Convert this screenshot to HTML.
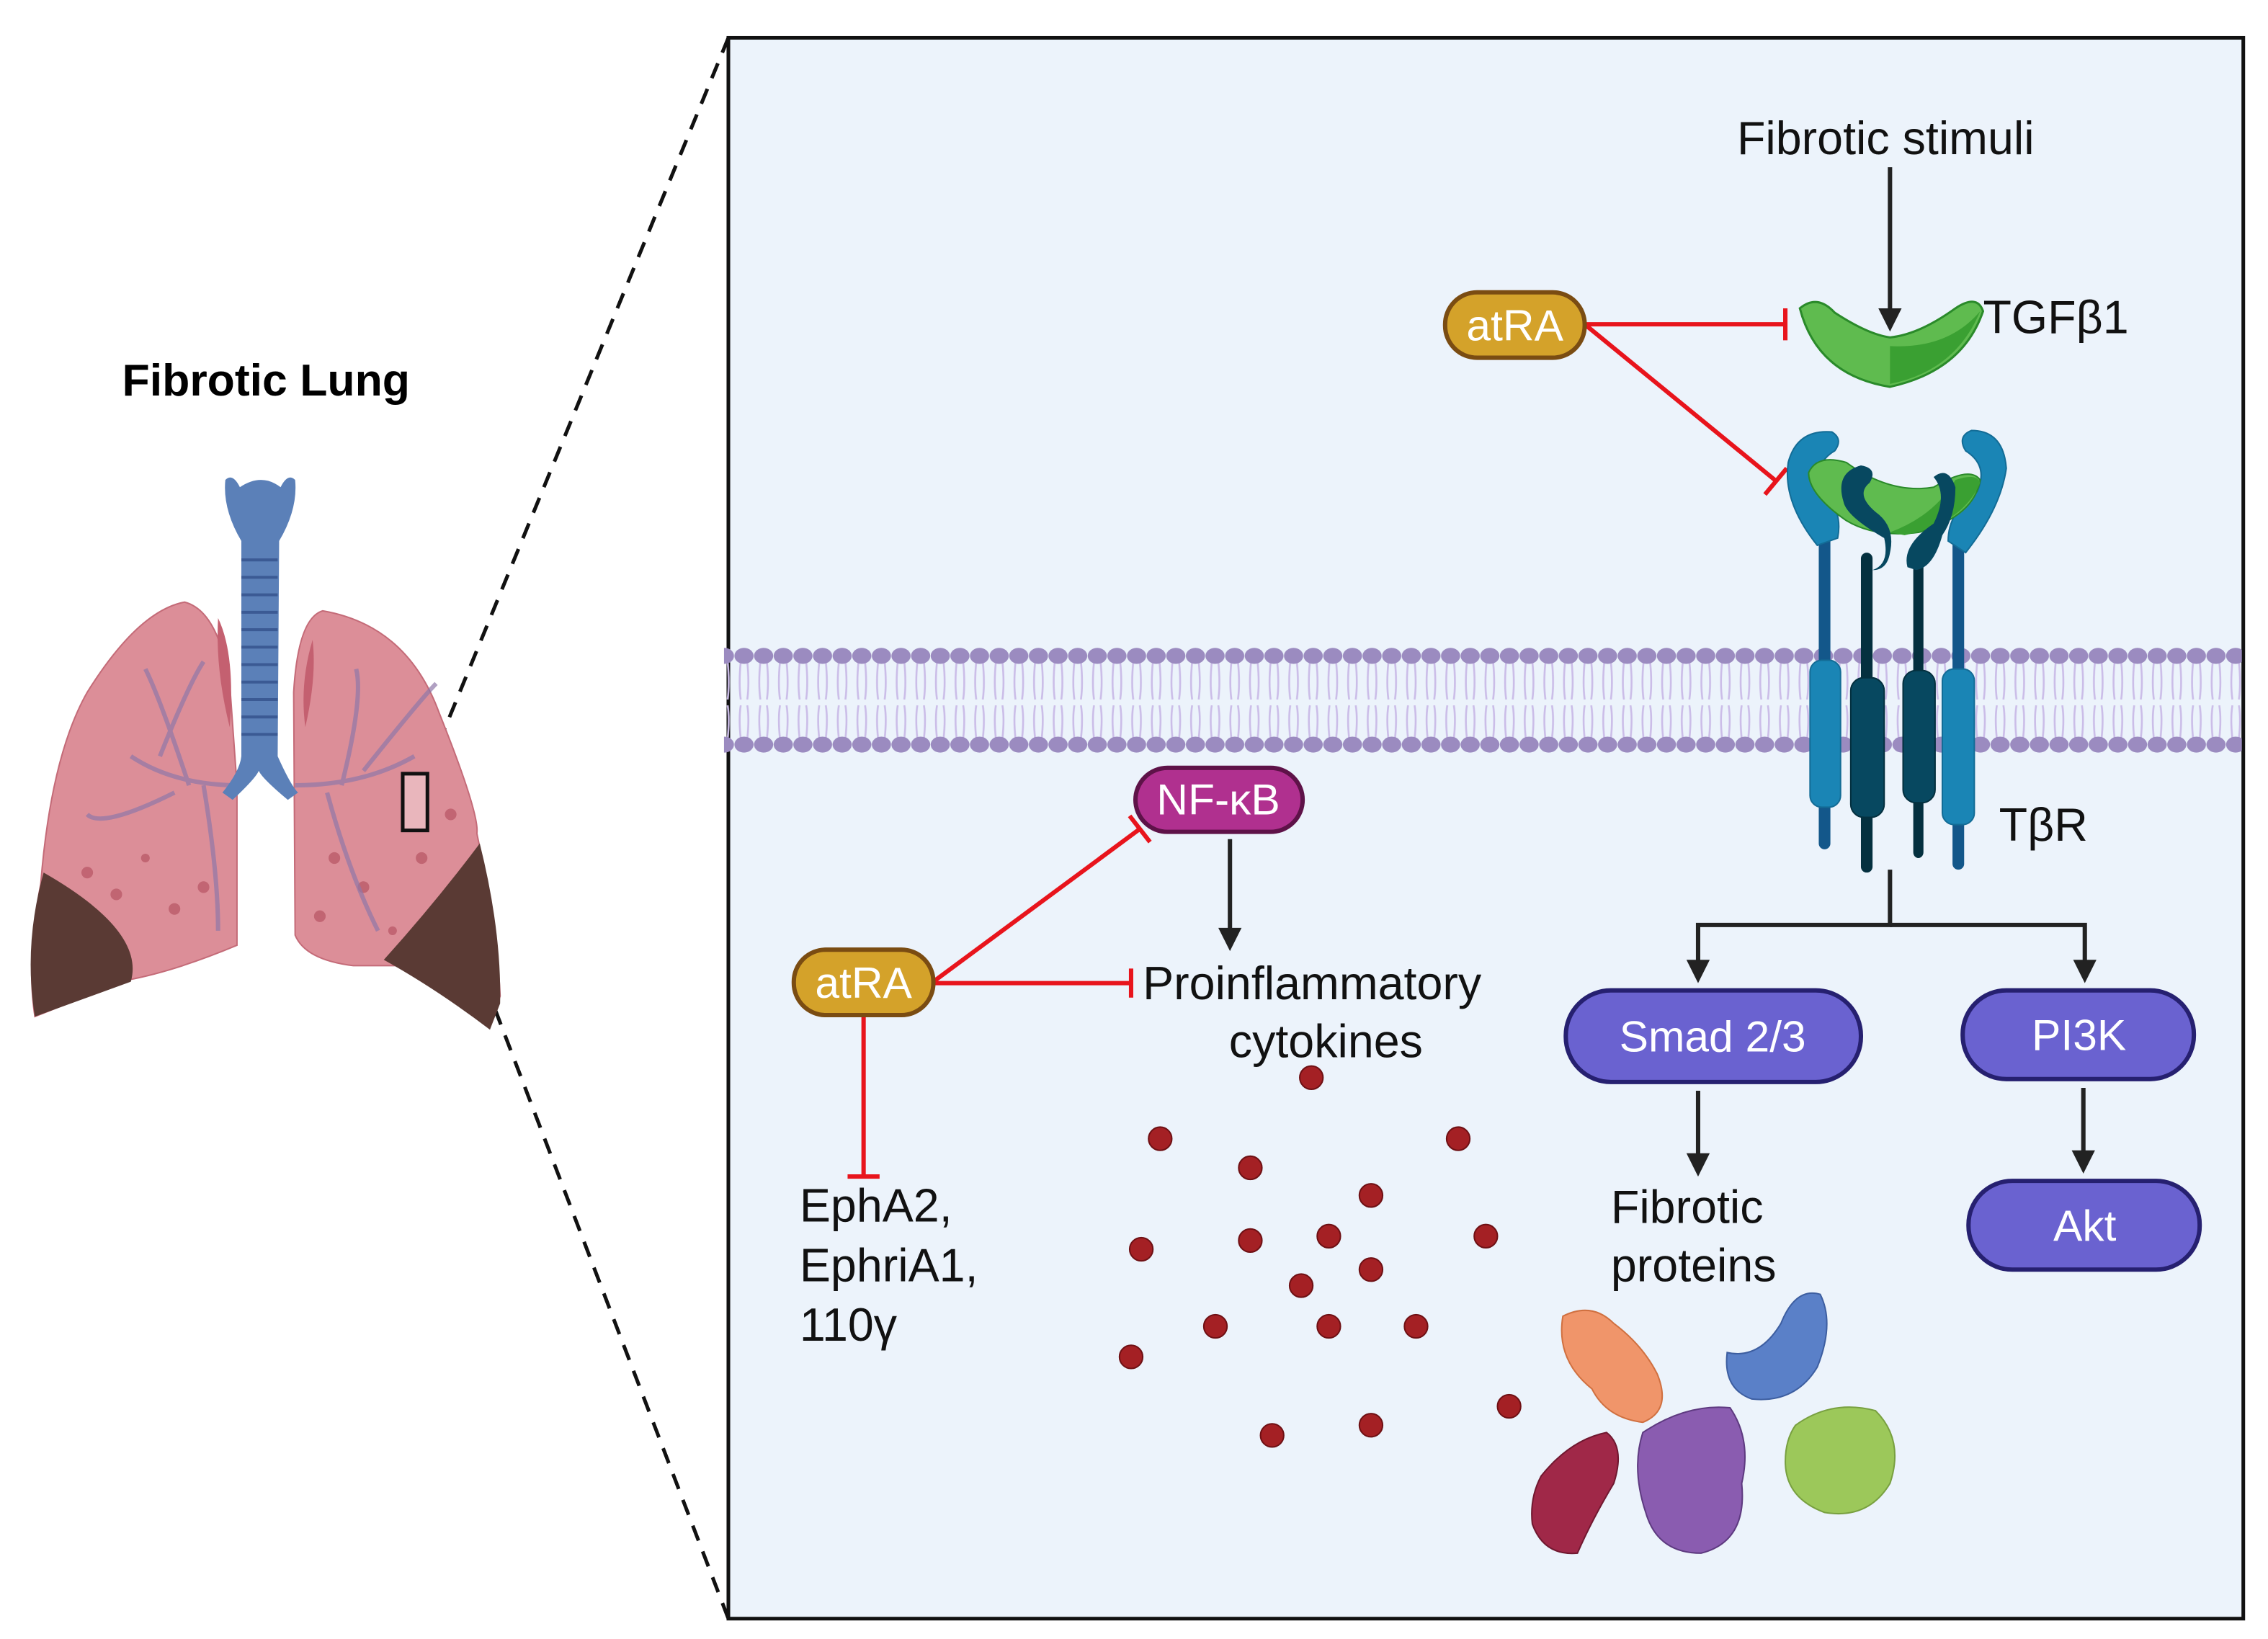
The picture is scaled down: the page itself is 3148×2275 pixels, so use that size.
<!DOCTYPE html>
<html><head><meta charset="utf-8"><style>
html,body{margin:0;padding:0;background:#fff}
svg{display:block}
text{font-family:"Liberation Sans",sans-serif}
</style></head><body>
<svg width="3148" height="2275" viewBox="0 0 1560 1127" preserveAspectRatio="none" xmlns="http://www.w3.org/2000/svg">
<defs>
<pattern id="mem" x="505" y="0" width="13.5" height="1127" patternUnits="userSpaceOnUse">
<path d="M4.5 455 Q3 470 4.5 481 M9 455 Q10.5 470 9 481 M4.5 508 Q3 494 4.5 485 M9 508 Q10.5 494 9 485" stroke="#cbbde8" stroke-width="1.3" fill="none"/>
<ellipse cx="6.75" cy="451" rx="6.6" ry="5.5" fill="#9b8bc0"/>
<ellipse cx="6.75" cy="512" rx="6.6" ry="5.5" fill="#9b8bc0"/>
</pattern>
</defs>
<line x1="501" y1="26" x2="294" y2="530" stroke="#111" stroke-width="2.5" stroke-dasharray="11,8"/>
<line x1="293" y1="570" x2="501" y2="1113" stroke="#111" stroke-width="2.5" stroke-dasharray="11,8"/>
<rect x="501" y="26" width="1042" height="1087" fill="#ecf3fb" stroke="#111" stroke-width="2.5"/>
<rect x="498" y="440" width="1044" height="80" fill="url(#mem)"/>

<text x="183" y="272" font-size="31" font-weight="bold" text-anchor="middle" fill="#000">Fibrotic Lung</text>
<path d="M127 414 Q150 420 158 470 L163 540 L163 650 Q120 668 87 674 L24 699 Q18 660 28 608 Q35 520 60 476 Q95 420 127 414Z" fill="#dc8e98" stroke="#c46b78"/>
<path d="M222 420 Q280 430 302 490 Q330 560 328 573 Q342 640 344 685 L337 705 Q300 680 278 664 L243 664 Q210 660 203 643 L202 476 Q205 425 222 420Z" fill="#dc8e98" stroke="#c46b78"/>
<path d="M150 425 Q162 450 158 500 Q148 460 150 425Z" fill="#c46070"/>
<path d="M215 440 Q206 470 210 500 Q218 465 215 440Z" fill="#c46070"/>
<path d="M30 600 Q100 640 90 675 L24 699 Q16 650 30 600Z" fill="#5a3a34"/>
<path d="M264 660 Q300 620 330 580 Q345 640 344 690 L337 708 Q300 680 264 660Z" fill="#5a3a34"/>
<g fill="#b04a5a" opacity="0.6"><circle cx="60" cy="600" r="4"/><circle cx="80" cy="615" r="4"/><circle cx="120" cy="625" r="4"/><circle cx="100" cy="590" r="3"/><circle cx="140" cy="610" r="4"/><circle cx="230" cy="590" r="4"/><circle cx="250" cy="610" r="4"/><circle cx="220" cy="630" r="4"/><circle cx="290" cy="590" r="4"/><circle cx="310" cy="560" r="4"/><circle cx="270" cy="640" r="3"/></g>
<g stroke="#8e78a8" stroke-width="3" fill="none" opacity="0.7"><path d="M165 540 Q120 540 90 520 M130 540 Q110 480 100 460 M140 540 Q150 600 150 640 M120 545 Q70 570 60 560 M110 520 Q130 470 140 455"/><path d="M203 540 Q250 540 285 520 M235 540 Q250 480 245 460 M225 545 Q240 600 260 640 M250 530 Q290 480 300 470"/></g>
<path d="M155 330 Q160 325 165 335 Q180 325 193 335 Q198 325 203 330 Q205 350 192 372 L191 520 Q200 540 205 545 L198 550 Q180 535 178 530 Q176 535 160 550 L153 545 Q165 530 166 520 L166 372 Q153 350 155 330Z" fill="#5b80b8"/>
<g stroke="#3b5a94" stroke-width="2"><line x1="166" y1="385" x2="191" y2="385"/><line x1="166" y1="397" x2="191" y2="397"/><line x1="166" y1="409" x2="191" y2="409"/><line x1="166" y1="421" x2="191" y2="421"/><line x1="166" y1="433" x2="191" y2="433"/><line x1="166" y1="445" x2="191" y2="445"/><line x1="166" y1="457" x2="191" y2="457"/><line x1="166" y1="469" x2="191" y2="469"/><line x1="166" y1="481" x2="191" y2="481"/><line x1="166" y1="493" x2="191" y2="493"/><line x1="166" y1="505" x2="191" y2="505"/></g>
<rect x="277" y="532" width="17" height="39" fill="#f2d0d4" fill-opacity="0.6" stroke="#111" stroke-width="2.5"/>

<g font-size="32" fill="#111">
<text x="1297" y="106" text-anchor="middle">Fibrotic stimuli</text>
<text x="1364" y="229">TGFβ1</text>
<text x="1375" y="578">TβR</text>
<text x="786" y="687">Proinflammatory</text>
<text x="912" y="727" text-anchor="middle">cytokines</text>
<text x="550" y="840">EphA2,</text>
<text x="550" y="881">EphriA1,</text>
<text x="550" y="922">110γ</text>
<text x="1108" y="841">Fibrotic</text>
<text x="1108" y="881">proteins</text>
</g>

<g stroke="#222" stroke-width="3" fill="none">
<line x1="1300" y1="115" x2="1300" y2="215"/>
<line x1="846" y1="577" x2="846" y2="640"/>
<polyline points="1300,598 1300,636 1168,636 1168,662"/>
<polyline points="1300,636 1434,636 1434,662"/>
<line x1="1168" y1="750" x2="1168" y2="795"/>
<line x1="1433" y1="748" x2="1433" y2="793"/>
</g>
<g fill="#222">
<path d="M1292 212 L1308 212 L1300 228Z"/>
<path d="M838 638 L854 638 L846 654Z"/>
<path d="M1160 660 L1176 660 L1168 676Z"/>
<path d="M1426 660 L1442 660 L1434 676Z"/>
<path d="M1160 793 L1176 793 L1168 809Z"/>
<path d="M1425 791 L1441 791 L1433 807Z"/>
</g>

<g stroke="#e8141c" stroke-width="3" fill="none">
<line x1="1090" y1="223" x2="1228" y2="223"/><line x1="1228" y1="212" x2="1228" y2="234"/>
<line x1="1090" y1="223" x2="1222" y2="331"/><line x1="1214" y1="340" x2="1229" y2="322"/>
<line x1="642" y1="675" x2="784" y2="570"/><line x1="777" y1="561" x2="791" y2="579"/>
<line x1="642" y1="676" x2="778" y2="676"/><line x1="778" y1="666" x2="778" y2="686"/>
<line x1="594" y1="698" x2="594" y2="809"/><line x1="583" y1="809" x2="605" y2="809"/>
</g>

<g>
<rect x="1251" y="350" width="8" height="234" rx="4" fill="#13578a"/>
<rect x="1343" y="350" width="8" height="248" rx="4" fill="#13578a"/>
<path d="M1250 375 Q1226 345 1230 318 Q1236 295 1260 297 Q1268 302 1262 310 Q1248 318 1252 335 Q1268 350 1264 370Z" fill="#1a85b5" stroke="#136c96"/>
<path d="M1352 380 Q1376 350 1380 322 Q1378 296 1356 296 Q1346 300 1352 310 Q1368 320 1360 338 Q1340 352 1340 372Z" fill="#1a85b5" stroke="#136c96"/>
<rect x="1245" y="454" width="21" height="101" rx="8" fill="#1a85b5" stroke="#136c96"/>
<rect x="1336" y="460" width="22" height="107" rx="8" fill="#1a85b5" stroke="#136c96"/>
<path d="M1244 325 Q1250 312 1270 318 Q1300 340 1330 335 Q1355 320 1362 330 Q1358 355 1320 366 Q1290 370 1270 358 Q1244 340 1244 325Z" fill="#5fbb4f" stroke="#2a8a2a"/>
<path d="M1300 366 Q1330 355 1345 330 Q1360 325 1362 332 Q1350 360 1310 368Z" fill="#3aa032"/>
<rect x="1280" y="380" width="8" height="220" rx="4" fill="#04303f"/>
<rect x="1316" y="380" width="7" height="210" rx="4" fill="#04303f"/>
<path d="M1288 392 Q1300 388 1296 370 Q1270 355 1268 345 Q1262 325 1280 320 Q1292 322 1286 332 Q1276 340 1290 352 Q1304 362 1300 380 Q1298 392 1288 392Z" fill="#074860"/>
<path d="M1312 390 Q1308 375 1330 360 Q1340 340 1330 328 Q1340 320 1345 335 Q1345 355 1336 368 Q1330 390 1318 392Z" fill="#074860"/>
<rect x="1273" y="466" width="23" height="96" rx="9" fill="#074860" stroke="#04303f"/>
<rect x="1309" y="461" width="22" height="91" rx="9" fill="#074860" stroke="#04303f"/>
</g>
<path d="M1238 212 Q1250 202 1262 215 Q1285 230 1300 232 Q1320 230 1345 212 Q1360 202 1364 214 Q1350 255 1300 266 Q1250 258 1238 212Z" fill="#5fbb4f" stroke="#2a8a2a" stroke-width="1.5"/>
<path d="M1300 264 Q1345 255 1362 214 Q1340 240 1300 238Z" fill="#3aa032"/>

<g font-size="30" text-anchor="middle" fill="#fff">
<rect x="994" y="201" width="96" height="45" rx="22" fill="#d4a22a" stroke="#7a4c12" stroke-width="3"/><text x="1042" y="234">atRA</text>
<rect x="546" y="653" width="96" height="45" rx="22" fill="#d4a22a" stroke="#7a4c12" stroke-width="3"/><text x="594" y="686">atRA</text>
<rect x="781" y="528" width="115" height="44" rx="22" fill="#b0308f" stroke="#5e1248" stroke-width="3"/><text x="838" y="560">NF-κB</text>
<rect x="1077" y="681" width="203" height="63" rx="31" fill="#6a62d0" stroke="#262070" stroke-width="3"/><text x="1178" y="723">Smad 2/3</text>
<rect x="1350" y="681" width="159" height="61" rx="30" fill="#6a62d0" stroke="#262070" stroke-width="3"/><text x="1430" y="722">PI3K</text>
<rect x="1354" y="812" width="159" height="61" rx="30" fill="#6a62d0" stroke="#262070" stroke-width="3"/><text x="1434" y="853">Akt</text>
</g>

<g fill="#a42024" stroke="#6e1014" stroke-width="1">
<circle cx="902" cy="741" r="8"/><circle cx="798" cy="783" r="8"/><circle cx="860" cy="803" r="8"/><circle cx="1003" cy="783" r="8"/><circle cx="943" cy="822" r="8"/><circle cx="785" cy="859" r="8"/><circle cx="860" cy="853" r="8"/><circle cx="914" cy="850" r="8"/><circle cx="1022" cy="850" r="8"/><circle cx="943" cy="873" r="8"/><circle cx="895" cy="884" r="8"/><circle cx="836" cy="912" r="8"/><circle cx="914" cy="912" r="8"/><circle cx="974" cy="912" r="8"/><circle cx="778" cy="933" r="8"/><circle cx="1038" cy="967" r="8"/><circle cx="875" cy="987" r="8"/><circle cx="943" cy="980" r="8"/>
</g>

<path d="M1075 905 Q1095 895 1110 910 Q1130 925 1140 945 Q1150 970 1130 978 Q1105 975 1095 955 Q1070 935 1075 905Z" fill="#f0956a" stroke="#d07040"/>
<path d="M1188 930 Q1210 935 1225 910 Q1235 885 1252 890 Q1262 910 1250 940 Q1235 965 1205 962 Q1185 955 1188 930Z" fill="#5a80c8" stroke="#3d5ea0"/>
<path d="M1130 985 Q1160 965 1190 968 Q1205 990 1198 1020 Q1202 1060 1170 1068 Q1140 1068 1132 1040 Q1122 1010 1130 985Z" fill="#8a5cb0" stroke="#5e3a80"/>
<path d="M1060 1015 Q1080 990 1105 985 Q1118 995 1110 1020 Q1095 1045 1085 1068 Q1062 1070 1054 1048 Q1052 1030 1060 1015Z" fill="#a02848" stroke="#701830"/>
<path d="M1235 980 Q1260 962 1290 970 Q1310 990 1300 1020 Q1285 1045 1255 1040 Q1228 1030 1228 1005 Q1228 990 1235 980Z" fill="#9cc85a" stroke="#78a040"/>
</svg>
</body></html>
